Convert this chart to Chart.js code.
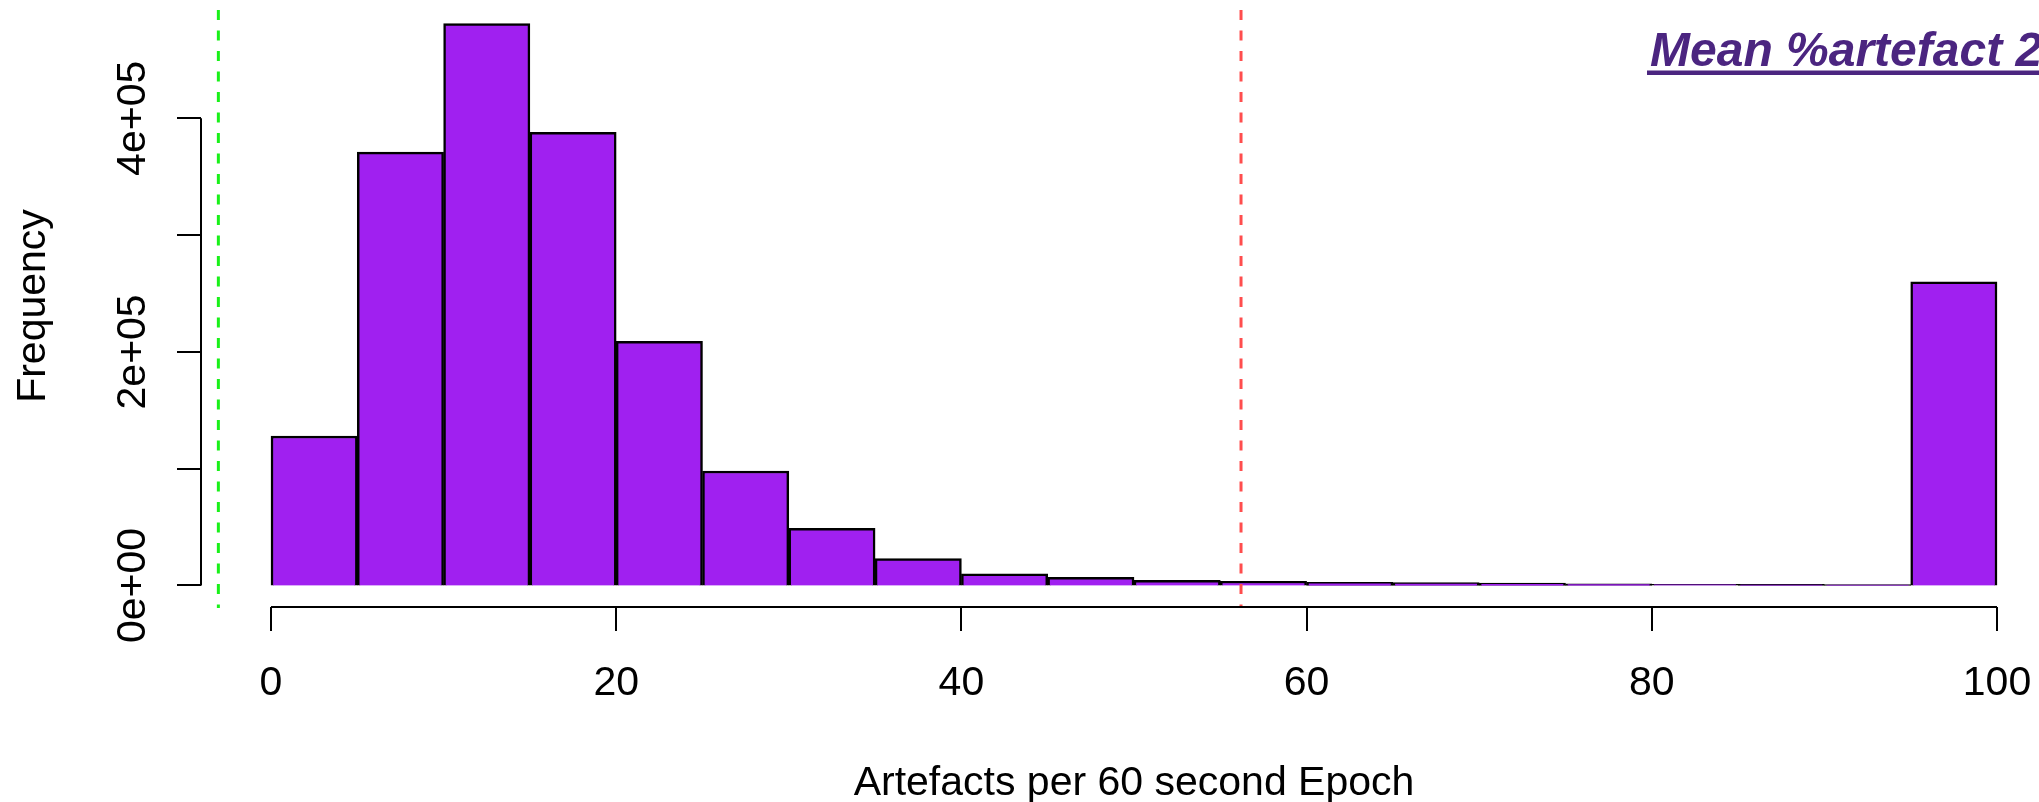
<!DOCTYPE html>
<html>
<head>
<meta charset="utf-8">
<script src="https://cdn.jsdelivr.net/npm/chart.js@4"></script>
<style>
  html, body { margin: 0; padding: 0; background: #fff; overflow: hidden; }
  #wrap { width: 2039px; height: 802px; }
</style>
</head>
<body>
<div id="wrap"><canvas id="c" width="2039" height="802"></canvas></div>
<script>
// ---- data ----
const binStarts = [0, 5, 10, 15, 20, 25, 30, 35, 40, 45, 50, 55, 60, 65, 70, 75, 80, 85, 90, 95];
const binWidth = 5;
const counts = [128000, 371000, 481000, 388000, 209000, 98000, 49000, 23000, 10000, 7000,
                4500, 3500, 2800, 2400, 2000, 1400, 1100, 900, 800, 260000];
const xTicks = [0, 20, 40, 60, 80, 100];
const xTickLabels = ['0', '20', '40', '60', '80', '100'];
const yTicks = [0, 100000, 200000, 300000, 400000];
const yTickLabels = ['0e+00', '', '2e+05', '', '4e+05'];
const refLineValues = [-3.05, 56.2];
const refLineColors = ['#19f019', '#ff4d4d'];
const xTitle = 'Artefacts per 60 second Epoch';
const yTitle = 'Frequency';
const mainTitle = 'Mean %artefact 2';

const FONT = '"Liberation Sans", Arial, sans-serif';

const rPlot = {
  id: 'rPlot',
  afterDatasetsDraw(chart) {
    const { ctx, chartArea, scales: { x, y } } = chart;
    ctx.save();
    // reference lines (abline)
    refLineValues.forEach((v, i) => {
      const px = x.getPixelForValue(v);
      ctx.strokeStyle = refLineColors[i];
      ctx.lineWidth = 3;
      ctx.setLineDash([10, 10.5]);
      ctx.beginPath();
      ctx.moveTo(px, chartArea.top);
      ctx.lineTo(px, chartArea.bottom);
      ctx.stroke();
    });
    ctx.setLineDash([]);

    ctx.strokeStyle = '#000';
    ctx.fillStyle = '#000';
    ctx.lineWidth = 2;
    ctx.font = '41px ' + FONT;

    // y axis
    const ax = chartArea.left;
    ctx.beginPath();
    ctx.moveTo(ax, y.getPixelForValue(yTicks[0]));
    ctx.lineTo(ax, y.getPixelForValue(yTicks[yTicks.length - 1]));
    yTicks.forEach(t => {
      const py = Math.round(y.getPixelForValue(t));
      ctx.moveTo(ax, py);
      ctx.lineTo(ax - 24, py);
    });
    ctx.stroke();
    yTicks.forEach((t, i) => {
      if (!yTickLabels[i]) return;
      const py = y.getPixelForValue(t);
      ctx.save();
      ctx.translate(145, py);
      ctx.rotate(-Math.PI / 2);
      ctx.textAlign = 'center';
      ctx.textBaseline = 'alphabetic';
      ctx.fillText(yTickLabels[i], 0, 0);
      ctx.restore();
    });

    // x axis
    const ay = chartArea.bottom - 1;
    ctx.beginPath();
    ctx.moveTo(x.getPixelForValue(xTicks[0]), ay);
    ctx.lineTo(x.getPixelForValue(xTicks[xTicks.length - 1]), ay);
    xTicks.forEach(t => {
      const px = Math.round(x.getPixelForValue(t));
      ctx.moveTo(px, ay);
      ctx.lineTo(px, ay + 24);
    });
    ctx.stroke();
    ctx.textAlign = 'center';
    ctx.textBaseline = 'alphabetic';
    xTicks.forEach((t, i) => {
      ctx.fillText(xTickLabels[i], x.getPixelForValue(t), 695);
    });

    // axis titles
    const xMid = (x.getPixelForValue(xTicks[0]) + x.getPixelForValue(xTicks[xTicks.length - 1])) / 2;
    ctx.fillText(xTitle, xMid, 795);
    ctx.save();
    ctx.translate(45, (chartArea.top + chartArea.bottom) / 2 - 3);
    ctx.rotate(-Math.PI / 2);
    ctx.fillText(yTitle, 0, 0);
    ctx.restore();

    // main title (bold italic underlined, top-right)
    ctx.fillStyle = '#4b2580';
    ctx.font = 'italic bold 48px ' + FONT;
    ctx.textAlign = 'left';
    ctx.fillText(mainTitle, 1650, 66);
    ctx.fillRect(1647, 70.5, chart.width - 1647, 4.5);
    ctx.restore();
  }
};

new Chart(document.getElementById('c'), {
  type: 'bar',
  data: {
    datasets: [{
      data: binStarts.map((s, i) => ({ x: s + binWidth / 2, y: counts[i] })),
      backgroundColor: '#a020f0',
      borderColor: '#000',
      borderWidth: 2.5,
      barPercentage: 1,
      categoryPercentage: 1
    }]
  },
  options: {
    responsive: false,
    devicePixelRatio: 1,
    animation: false,
    layout: { padding: { left: 201, right: 0, top: 10, bottom: 194 } },
    plugins: { legend: { display: false }, tooltip: { enabled: false }, title: { display: false } },
    scales: {
      x: {
        type: 'linear', min: -4.056, max: 102.433, offset: false, display: false,
        afterBuildTicks: (scale) => { scale.ticks = binStarts.map(v => ({ value: v })); }
      },
      y: { type: 'linear', min: -19264, max: 492723, display: false }
    }
  },
  plugins: [rPlot]
});
</script>
</body>
</html>
